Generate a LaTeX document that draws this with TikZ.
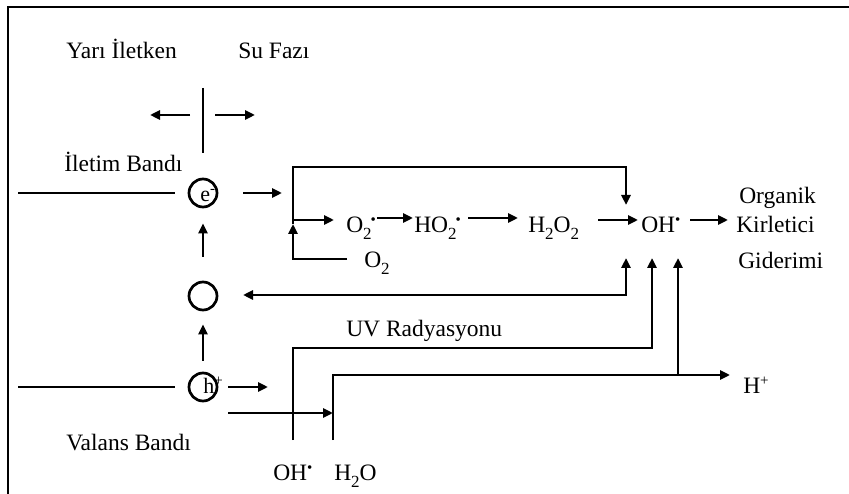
\documentclass[tikz,border=0pt]{standalone}
\usepackage{fontspec}
\setmainfont{Liberation Serif}
\usetikzlibrary{arrows.meta}
\newcommand\sbs[1]{\raisebox{-7pt}{\fontsize{17}{20}\selectfont #1}}
\newcommand\sps[1]{\raisebox{8pt}{\fontsize{15}{18}\selectfont #1}}
\begin{document}
\begin{tikzpicture}[x=1pt,y=-1pt, line width=2.5pt,
  arr/.style={-{Triangle[length=10pt,width=9pt]}},
  txt/.style={inner sep=0pt, anchor=base west, font=\fontsize{23.5}{28}\selectfont},
  small/.style={inner sep=0pt, anchor=base west, font=\fontsize{22}{26}\selectfont},
  ring/.style={circle, draw, line width=2.7pt, minimum size=28pt, inner sep=0pt}]
\useasboundingbox (0,0) rectangle (849,494);
% frame
\coordinate (fbl) at (8,494);
\coordinate (ftl) at (8,7);
\coordinate (ftr) at (849,7);
\draw[line width=2.7pt] (fbl) -- (ftl) -- (ftr);

% texts
\node[txt] (yari) at (65,59) {Yarı İletken};
\node[txt] (su) at (237,59) {Su Fazı};
\node[txt] (iletim) at (63,172) {İletim Bandı};
\node[txt] (valans) at (65,450) {Valans Bandı};
\node[txt] (uv) at (345,337) {UV Radyasyonu};
\node[txt] (o2a) at (345,233) {O\sbs{2}\hspace{-1pt}\sps{•}};
\node[txt] (ho2) at (413,233) {HO\sbs{2}\hspace{-1pt}\sps{•}};
\node[txt] (h2o2) at (527,233) {H\sbs{2}O\sbs{2}};
\node[txt] (oh) at (640,233) {OH\sps{•}};
\node[txt] (org) at (738,204) {Organik};
\node[txt] (kir) at (735,233) {Kirletici};
\node[txt] (gid) at (737,269) {Giderimi};
\node[txt] (o2b) at (363,268) {O\sbs{2}};
\node[txt] (ohb) at (272,480) {OH\sps{•}};
\node[txt] (h2o) at (333,480) {H\sbs{2}O};
\node[txt] (hp) at (742,393) {H\sps{+}};

% circles
\node[ring] (ce) at (203,193) {};
\node[ring] (cm) at (203,296) {};
\node[ring] (ch) at (203,387) {};
\node[small] (elab) at (199,202) {e\sps{-}};
\node[small] (hlab) at (202,393) {h\sps{+}};

% interface bar and arrows
\coordinate (bt) at (203,88);
\coordinate (bb) at (203,153);
\draw (bt) -- (bb);
\coordinate (la1) at (190,115);
\coordinate (la2) at (150,115);
\coordinate (ra1) at (215,115);
\coordinate (ra2) at (255,115);
\draw[arr] (la1) -- (la2);
\draw[arr] (ra1) -- (ra2);

% bands
\coordinate (cb1) at (18,193);
\coordinate (cb2) at (175,193);
\draw (cb1) -- (cb2);
\coordinate (vb1) at (18,387);
\coordinate (vb2) at (175,387);
\draw (vb1) -- (vb2);

% vertical arrows between circles
\draw[arr, shorten <=24pt, shorten >=15pt] (cm) -- (ce);
\draw[arr, shorten <=11pt, shorten >=13pt] (ch) -- (cm);

% electron arrow
\coordinate (ea1) at (243,193);
\coordinate (ea2) at (282,193);
\draw[arr] (ea1) -- (ea2);

% O2 loop
\coordinate (j0) at (347,259);
\coordinate (j1) at (293,259);
\coordinate (j2) at (293,224);
\coordinate (j3) at (293,167);
\coordinate (j4) at (626,167);
\coordinate (j5) at (626,205);
\draw[arr] (j0) -- (j1) -- (j2);
\draw[arr] (j2) -- (j3) -- (j4) -- (j5);
\coordinate (j6) at (293,220);
\coordinate (j7) at (334,220);
\draw[arr] (j6) -- (j7);

% chain arrows
\coordinate (c1a) at (377,218);
\coordinate (c1b) at (413,218);
\draw[arr] (c1a) -- (c1b);
\coordinate (c2a) at (468,218);
\coordinate (c2b) at (518,218);
\draw[arr] (c2a) -- (c2b);
\coordinate (c3a) at (598,220);
\coordinate (c3b) at (638,220);
\draw[arr] (c3a) -- (c3b);
\coordinate (c4a) at (690,220);
\coordinate (c4b) at (728,220);
\draw[arr] (c4a) -- (c4b);

% return to middle circle
\coordinate (m1) at (243,295);
\coordinate (m2) at (626,258);
\draw[{Triangle[length=10pt,width=9pt]}-{Triangle[length=10pt,width=9pt]}] (m1) -| (m2);

% hole arrows
\coordinate (h1a) at (228,387);
\coordinate (h1b) at (268,387);
\draw[arr] (h1a) -- (h1b);
\coordinate (h2a) at (228,413);
\coordinate (h2b) at (333,413);
\draw[arr] (h2a) -- (h2b);

% UV path (OH radical)
\coordinate (u0) at (293,440);
\coordinate (u1) at (293,348);
\coordinate (u2) at (652,348);
\coordinate (u3) at (652,258);
\draw[arr] (u0) -- (u1) -- (u2) -- (u3);

% water path
\coordinate (w0) at (333,440);
\coordinate (w1) at (333,375);
\coordinate (w2) at (730,375);
\draw[arr] (w0) -- (w1) -- (w2);
\coordinate (w3) at (678,375);
\coordinate (w4) at (678,258);
\draw[arr] (w3) -- (w4);
\end{tikzpicture}
\end{document}
